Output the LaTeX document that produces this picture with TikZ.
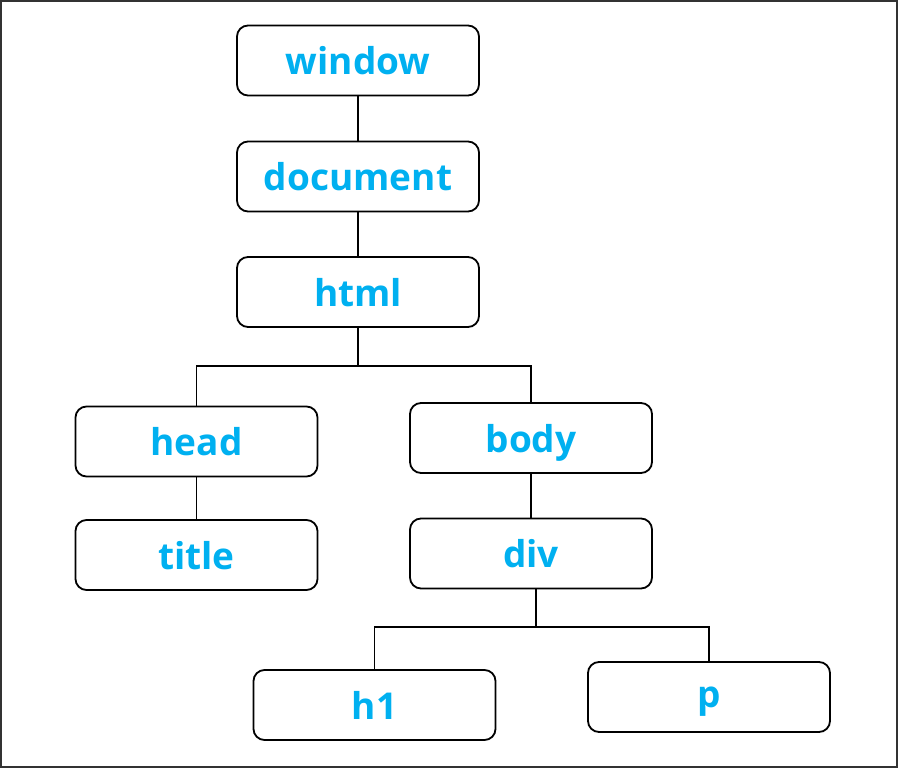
\documentclass[tikz,border=0pt]{standalone}
\usepackage{fontspec}
\setmainfont{Open Sans}
\definecolor{domblue}{HTML}{00B0F0}
\begin{document}
\begin{tikzpicture}[
  x=1pt, y=-1pt,
  box/.style={draw, line width=1.8pt, rounded corners=11pt, minimum width=242pt, minimum height=70pt,
    text depth=0pt, text=domblue, font=\fontsize{37}{44}\selectfont\bfseries},
  link/.style={line width=1.8pt}
]
\useasboundingbox (0,0) rectangle (898,768);
\draw[line width=2pt, black!80] (1,1) rectangle (897,767);
\node[box] (window) at (358,60.5) {window};
\node[box] (document) at (358,176.5) {document};
\node[box] (html) at (358,292) {html};
\node[box] (head) at (196.5,441.5) {head};
\node[box] (body) at (531,438) {body};
\node[box] (title) at (196.5,555) {title};
\node[box] (div) at (531,553.5) {div};
\node[box] (h1) at (374.5,705) {h1};
\node[box] (p) at (709,697) {p};
\coordinate (htmlfork) at (358,366);
\coordinate (divfork) at (536,627);
\draw[link] (window) -- (document);
\draw[link] (document) -- (html);
\draw[link] (html) -- (htmlfork) -| (head);
\draw[link] (htmlfork) -| (body);
\draw[link] (head) -- (title);
\draw[link] (body) -- (div);
\draw[link] (divfork |- div.south) -- (divfork) -| (h1);
\draw[link] (divfork) -| (p);
\end{tikzpicture}
\end{document}
